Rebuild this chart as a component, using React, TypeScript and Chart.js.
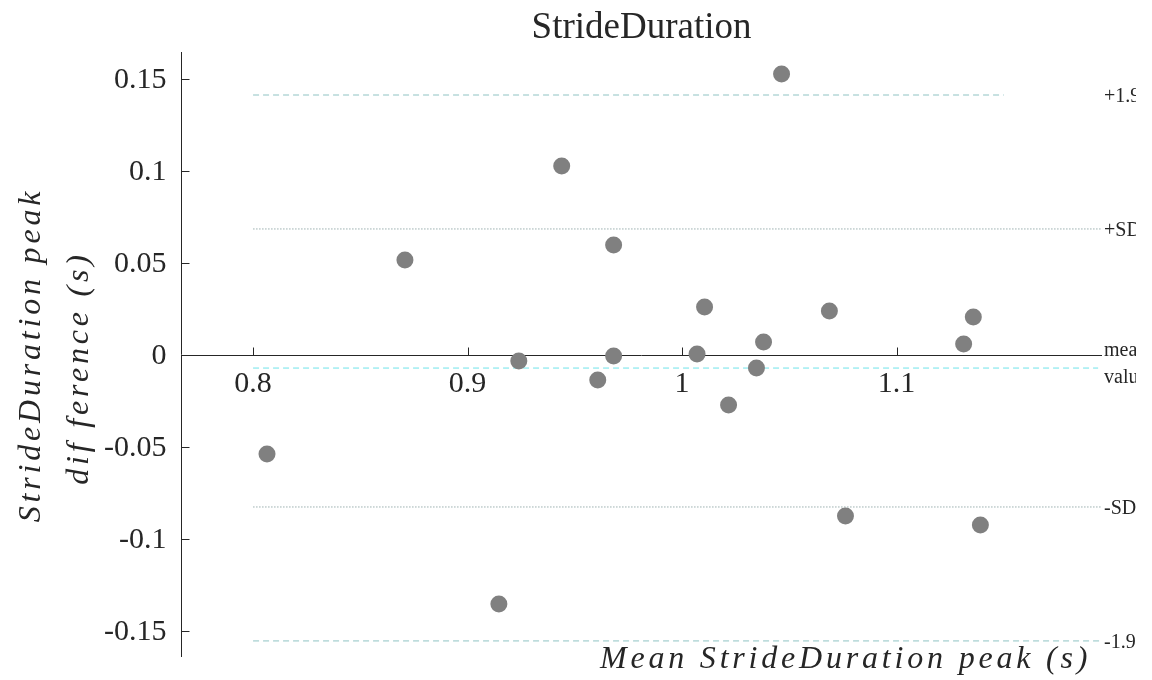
import React, { useEffect, useRef } from "react";
import { Chart, registerables } from "chart.js";

Chart.register(...registerables);

// ---- data ----
const meanValues = [
  1.0464, 0.9439, 0.9681, 0.8708, 1.0105, 1.0687, 1.1358, 1.038, 1.1313, 1.007,
  0.9681, 0.9239, 1.0347, 0.9607, 1.0217, 0.8065, 1.0762, 1.1391, 0.9146,
];
const diffValues = [
  0.1527, 0.1027, 0.0598, 0.0516, 0.0261, 0.0239, 0.0207, 0.0071, 0.006, 0.0005,
  -0.0005, -0.0033, -0.0071, -0.0136, -0.0272, -0.0538, -0.0875, -0.0924, -0.1353,
];

const xTicks = [0.8, 0.9, 1.0, 1.1];
const xTickLabels = ["0.8", "0.9", "1", "1.1"];
const yTicks = [-0.15, -0.1, -0.05, 0, 0.05, 0.1, 0.15];
const yTickLabels = ["-0.15", "-0.1", "-0.05", "0", "0.05", "0.1", "0.15"];

const statNames = [["+1.96SD"], ["+SD"], ["mean", "value"], ["-SD"], ["-1.96SD"]];
const statLevels = [0.1413, 0.0685, -0.0071, -0.0826, -0.1554];
const statStart = [0.8, 0.8, 0.8, 0.8, 0.8];
const statEnd = [1.15, 1.197, 1.194, 1.197, 1.195];

const titleText = "StrideDuration";
const xTitle = "Mean StrideDuration peak (s)";
const yTitle = ["StrideDuration peak", "dif ference (s)"];

const X_MIN = 0.7664;
const X_MAX = 1.1958;
const Y_MIN = -0.16413;
const Y_MAX = 0.16467;

const TEXT = "#262626";
const SERIF = "'Liberation Serif', 'Times New Roman', serif";

const statColors = ["#8fc3c3", "#9aaeae", "#6fe3ea", "#9aaeae", "#8fc3c3"];
const statDashes = [[6, 4], [1.5, 1.5], [6, 4], [1.5, 1.5], [6, 4]];

const axesPlugin = {
  id: "matlabAxes",
  beforeDatasetsDraw(chart: any) {
    const { ctx, chartArea: a, scales } = chart;
    const x = scales.x;
    const y = scales.y;
    ctx.save();
    ctx.strokeStyle = TEXT;
    ctx.lineWidth = 1;
    const y0 = Math.round(y.getPixelForValue(0)) + 0.5;
    const x0 = Math.round(a.left) + 0.5;
    ctx.beginPath();
    ctx.moveTo(a.left, y0);
    ctx.lineTo(a.right, y0);
    ctx.moveTo(x0, a.top);
    ctx.lineTo(x0, a.bottom);
    xTicks.forEach((v) => {
      const px = Math.round(x.getPixelForValue(v)) + 0.5;
      ctx.moveTo(px, y0);
      ctx.lineTo(px, y0 - 8);
    });
    yTicks.forEach((v) => {
      const py = Math.round(y.getPixelForValue(v)) + 0.5;
      ctx.moveTo(x0, py);
      ctx.lineTo(x0 + 8, py);
    });
    ctx.stroke();

    ctx.fillStyle = TEXT;
    ctx.font = `30px ${SERIF}`;
    ctx.textAlign = "center";
    ctx.textBaseline = "middle";
    xTicks.forEach((v, i) => {
      ctx.fillText(xTickLabels[i], x.getPixelForValue(v), y0 + 29);
    });
    ctx.textAlign = "right";
    yTicks.forEach((v, i) => {
      ctx.fillText(yTickLabels[i], x0 - 15, y.getPixelForValue(v) + 1);
    });
    ctx.restore();
  },
  afterDraw(chart: any) {
    const { ctx, chartArea: a, scales } = chart;
    const y = scales.y;
    ctx.save();
    ctx.fillStyle = TEXT;

    // title
    ctx.font = `37px ${SERIF}`;
    ctx.textAlign = "center";
    ctx.textBaseline = "alphabetic";
    ctx.fillText(titleText, (a.left + a.right) / 2, 38);

    // right-hand labels (clipped at the figure edge as in the reference)
    ctx.save();
    ctx.beginPath();
    ctx.rect(1095, 0, 1136 - 1095, 680);
    ctx.clip();
    ctx.font = `20px ${SERIF}`;
    ctx.textAlign = "left";
    statNames.forEach((lines, i) => {
      const py = y.getPixelForValue(statLevels[i]);
      if (lines.length === 1) {
        ctx.fillText(lines[0], 1104, py + 7);
      } else {
        ctx.fillText(lines[0], 1104, py - 12);
        ctx.fillText(lines[1], 1104, py + 15);
      }
    });
    ctx.restore();

    // axis titles
    (ctx as any).letterSpacing = "3.8px";
    ctx.font = `italic 32px ${SERIF}`;
    ctx.textAlign = "left";
    ctx.fillText(xTitle, 600, 668);

    ctx.textAlign = "center";
    const cy = [355, 368];
    const bx = [40, 88];
    yTitle.forEach((line, i) => {
      ctx.save();
      ctx.translate(bx[i], cy[i]);
      ctx.rotate(-Math.PI / 2);
      ctx.fillText(line, 0, 0);
      ctx.restore();
    });
    ctx.restore();
  },
};

export default function App() {
  const canvasRef = useRef<HTMLCanvasElement | null>(null);

  useEffect(() => {
    document.body.style.margin = "0";
    const canvas = canvasRef.current;
    if (!canvas) return;

    const points = meanValues.map((m, i) => ({ x: m, y: diffValues[i] }));
    const statSets = statLevels.map((lv, i) => ({
      label: statNames[i].join(" "),
      data: [
        { x: statStart[i], y: lv },
        { x: statEnd[i], y: lv },
      ],
      showLine: true,
      borderColor: statColors[i],
      borderWidth: 1,
      borderDash: statDashes[i],
      pointRadius: 0,
      fill: false,
    }));

    const chart = new Chart(canvas, {
      type: "scatter",
      data: {
        datasets: [
          {
            label: "difference",
            data: points,
            backgroundColor: "#808080",
            borderWidth: 0,
            pointRadius: 8.5,
            pointHoverRadius: 8.5,
          },
          ...statSets,
        ],
      },
      options: {
        animation: false,
        responsive: false,
        devicePixelRatio: 1,
        events: [],
        layout: { padding: { left: 181, right: 50, top: 52, bottom: 23 } },
        plugins: {
          legend: { display: false },
          tooltip: { enabled: false },
          title: { display: false },
        },
        scales: {
          x: { type: "linear", min: X_MIN, max: X_MAX, display: false },
          y: { type: "linear", min: Y_MIN, max: Y_MAX, display: false },
        },
      },
      plugins: [axesPlugin],
    });

    return () => chart.destroy();
  }, []);

  return (
    <div style={{ position: "absolute", left: 0, top: 0, width: 1152, height: 680, background: "#fff" }}>
      <canvas ref={canvasRef} width={1152} height={680} style={{ display: "block" }} />
    </div>
  );
}
